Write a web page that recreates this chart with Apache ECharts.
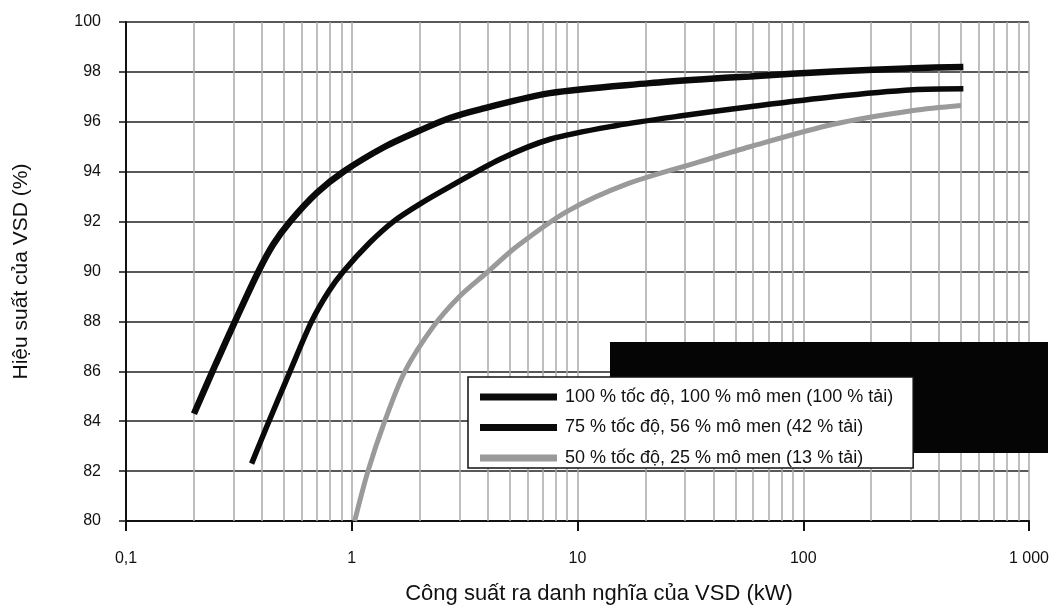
<!DOCTYPE html>
<html>
<head>
<meta charset="utf-8">
<script src="https://cdn.jsdelivr.net/npm/echarts@6/dist/echarts.min.js"></script>
<style>
html,body{margin:0;padding:0;background:#fff;}
#chart{width:1054px;height:610px;}
</style>
</head>
<body>
<div id="chart"></div>
<script>
// ---- data ----
var seriesNames = [
  '100 % tốc độ, 100 % mô men (100 % tải)',
  '75 % tốc độ, 56 % mô men (42 % tải)',
  '50 % tốc độ, 25 % mô men (13 % tải)'
];
var kw1  = [0.2, 0.25, 0.304, 0.386, 0.45, 0.533, 0.7, 0.918, 1.4, 2.0, 2.72, 3.7, 7.55, 20.9, 34.9, 58, 136, 307, 512];
var eff1 = [84.3, 86.3, 88.0, 90.0, 91.1, 92.0, 93.15, 94.0, 95.0, 95.65, 96.15, 96.5, 97.15, 97.55, 97.7, 97.82, 98.02, 98.15, 98.2];
var kw2  = [0.36, 0.423, 0.533, 0.664, 0.79, 0.918, 1.2, 1.528, 2.0, 2.72, 4.54, 7.55, 14.9, 29.5, 58, 136, 307, 512];
var eff2 = [82.3, 83.85, 86.0, 88.0, 89.2, 90.0, 91.15, 92.0, 92.7, 93.4, 94.5, 95.3, 95.85, 96.25, 96.6, 97.0, 97.28, 97.32];
var kw3  = [1.03, 1.18, 1.4, 1.72, 2.3, 3.0, 3.96, 5.38, 8.96, 16.5, 34.9, 58, 136, 307, 500];
var eff3 = [80.0, 82.0, 84.0, 86.0, 87.8, 89.0, 89.95, 91.0, 92.4, 93.5, 94.4, 95.0, 95.9, 96.45, 96.65];
var xTickLabels = {'0.1': '0,1', '1': '1', '10': '10', '100': '100', '1000': '1 000'};

function pairs(xs, ys) { return xs.map(function (x, i) { return [x, ys[i]]; }); }

// minor vertical grid lines (2..9 in every decade)
var minorGrid = [];
[0.1, 1, 10, 100].forEach(function (d) {
  for (var m = 2; m <= 9; m++) minorGrid.push({ xAxis: +(m * d).toPrecision(3) });
});

var FONT = '"Liberation Sans", Arial, sans-serif';
var chart = echarts.init(document.getElementById('chart'));
chart.setOption({
  animation: false,
  backgroundColor: '#fff',
  grid: { left: 126, right: 25, top: 22, bottom: 87 },
  xAxis: {
    type: 'log', logBase: 10, min: 0.1, max: 1000,
    name: 'Công suất ra danh nghĩa của VSD (kW)',
    nameLocation: 'middle', nameGap: 62,
    nameTextStyle: { fontFamily: FONT, fontSize: 22, color: '#111', padding: [0, 0, 0, 43] },
    axisLine: { show: true, lineStyle: { color: '#111', width: 2 } },
    axisTick: { show: true, length: 10, lineStyle: { color: '#111', width: 2 } },
    axisLabel: {
      margin: 30, fontFamily: FONT, fontSize: 16, color: '#111',
      formatter: function (v) { var k = String(+v.toPrecision(3)); return xTickLabels[k] || ''; }
    },
    splitLine: { show: true, lineStyle: { color: '#a8a8a8', width: 1.5 } }
  },
  yAxis: {
    type: 'value', min: 80, max: 100, interval: 2,
    name: 'Hiệu suất của VSD (%)',
    nameLocation: 'middle', nameGap: 94, nameRotate: 90,
    nameTextStyle: { fontFamily: FONT, fontSize: 21, color: '#111' },
    axisLine: { show: true, lineStyle: { color: '#111', width: 2 } },
    axisTick: { show: true, length: 7, lineStyle: { color: '#111', width: 1.5 } },
    axisLabel: { margin: 25, fontFamily: FONT, fontSize: 16, color: '#111' },
    splitLine: { show: true, lineStyle: { color: '#222', width: 1.6 } }
  },
  legend: {
    orient: 'vertical', left: 468, top: 377,
    padding: [11, 20, 1, 12], itemGap: 12.5,
    itemWidth: 77, itemHeight: 7, icon: 'rect',
    backgroundColor: '#fff', borderColor: '#111', borderWidth: 1.5,
    textStyle: { fontFamily: FONT, fontSize: 18, color: '#111', lineHeight: 18, padding: [0, 0, 0, 3] },
    z: 10,
    data: seriesNames
  },
  graphic: [{
    type: 'rect', z: 5, silent: true,
    shape: { x: 610, y: 342, width: 438, height: 111 },
    style: { fill: '#050505' }
  }],
  series: [
    {
      name: seriesNames[0], type: 'line', smooth: 0.3, showSymbol: false,
      data: pairs(kw1, eff1), z: 4,
      itemStyle: { color: '#0a0a0a' },
      lineStyle: { color: '#0a0a0a', width: 6.5 },
      markLine: {
        silent: true, symbol: 'none', animation: false,
        label: { show: false },
        lineStyle: { color: '#a8a8a8', width: 1.5, type: 'solid' },
        data: minorGrid, z: 1
      }
    },
    {
      name: seriesNames[1], type: 'line', smooth: 0.3, showSymbol: false,
      data: pairs(kw2, eff2), z: 4,
      itemStyle: { color: '#0a0a0a' },
      lineStyle: { color: '#0a0a0a', width: 5.5 }
    },
    {
      name: seriesNames[2], type: 'line', smooth: 0.3, showSymbol: false,
      data: pairs(kw3, eff3), z: 4,
      itemStyle: { color: '#9a9a9a' },
      lineStyle: { color: '#9a9a9a', width: 5 }
    }
  ]
});
</script>
</body>
</html>
